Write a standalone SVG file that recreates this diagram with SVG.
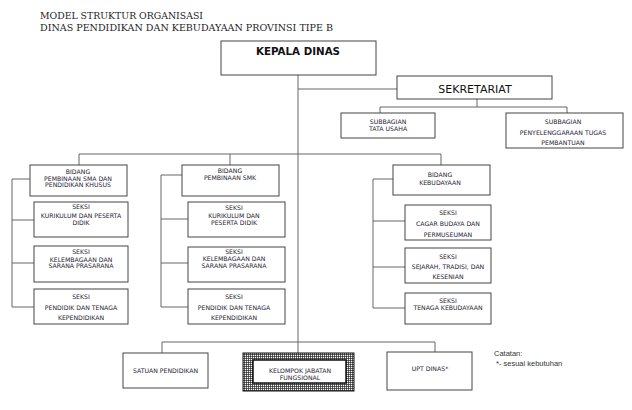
<svg xmlns="http://www.w3.org/2000/svg" width="632" height="410" viewBox="0 0 632 410">
<style>
.bx{fill:#fff;stroke:#444;stroke-width:1}
.ln{fill:none;stroke:#666;stroke-width:1}
.t{font-family:"DejaVu Sans",Verdana,sans-serif;font-size:6.2px;fill:#1e2233;text-anchor:middle}
.ttl{font-family:"DejaVu Serif","Liberation Serif",serif;font-size:8.6px;fill:#222}
</style>
<defs>
<pattern id="grid" width="2" height="2" patternUnits="userSpaceOnUse">
<rect width="2" height="2" fill="#fff"/>
<path d="M0 0.5H2M0.5 0V2" stroke="#222" stroke-width="0.7"/>
</pattern>
</defs>
<rect width="632" height="410" fill="#fff"/>
<g id="title">
<text class="ttl" x="40" y="18.5" textLength="163" lengthAdjust="spacingAndGlyphs">MODEL STRUKTUR ORGANISASI</text>
<text class="ttl" x="40" y="31" textLength="293" lengthAdjust="spacingAndGlyphs">DINAS PENDIDIKAN DAN KEBUDAYAAN PROVINSI TIPE B</text>
</g>
<g id="connectors" class="ln">
<path d="M298 75V353"/>
<path d="M298 89H397"/>
<path d="M477 99V107M380 107H567M380 107V113M567 107V113"/>
<path d="M79 154H441M79 154V165M230 154V165M441 154V165"/>
<path d="M12 179H30M12 179V307M12 220H34M12 263H34M12 307H34"/>
<path d="M161 175H182M161 175V307M161 219H188M161 263H188M161 307H188"/>
<path d="M373 179H393M373 179V308M373 221H405M373 267H405M373 308H405"/>
<path d="M162 342H435M162 342V353M435 342V352"/>
</g>
<g id="kepala-dinas">
<rect class="bx" x="221" y="41" width="155" height="34"/>
<text x="298" y="54.5" text-anchor="middle" font-family="DejaVu Sans,Verdana,sans-serif" font-weight="bold" font-size="10.3" fill="#111">KEPALA DINAS</text>
</g>
<g id="sekretariat">
<rect class="bx" x="397" y="76" width="155" height="23"/>
<text x="475" y="93" text-anchor="middle" font-family="DejaVu Sans,Verdana,sans-serif" font-size="11" fill="#111">SEKRETARIAT</text>
</g>
<g id="subbagian-tu">
<rect class="bx" x="341" y="113" width="94" height="25"/>
<text class="t" x="388" y="124">SUBBAGIAN</text>
<text class="t" x="388" y="131">TATA USAHA</text>
</g>
<g id="subbagian-tp">
<rect class="bx" x="506" y="113" width="117" height="35"/>
<text class="t" x="563" y="124">SUBBAGIAN</text>
<text class="t" x="563" y="135">PENYELENGGARAAN TUGAS</text>
<text class="t" x="563" y="145">PEMBANTUAN</text>
</g>
<g id="bidang-sma">
<rect class="bx" x="30" y="165" width="97" height="31"/>
<text class="t" x="78" y="174">BIDANG</text>
<text class="t" x="78" y="181">PEMBINAAN SMA DAN</text>
<text class="t" x="78" y="186.5">PENDIDIKAN KHUSUS</text>
</g>
<g id="sma-kurikulum">
<rect class="bx" x="34" y="202" width="94" height="35"/>
<text class="t" x="81" y="209">SEKSI</text>
<text class="t" x="81" y="218">KURIKULUM DAN PESERTA</text>
<text class="t" x="81" y="225">DIDIK</text>
</g>
<g id="sma-kelembagaan">
<rect class="bx" x="34" y="246" width="94" height="36"/>
<text class="t" x="81" y="254">SEKSI</text>
<text class="t" x="81" y="262">KELEMBAGAAN DAN</text>
<text class="t" x="81" y="268">SARANA PRASARANA</text>
</g>
<g id="sma-ptk">
<rect class="bx" x="34" y="289" width="94" height="35"/>
<text class="t" x="81" y="299">SEKSI</text>
<text class="t" x="81" y="310">PENDIDIK DAN TENAGA</text>
<text class="t" x="81" y="320">KEPENDIDIKAN</text>
</g>
<g id="bidang-smk">
<rect class="bx" x="182" y="165" width="97" height="31"/>
<text class="t" x="230" y="173">BIDANG</text>
<text class="t" x="230" y="180">PEMBINAAN SMK</text>
</g>
<g id="smk-kurikulum">
<rect class="bx" x="188" y="202" width="97" height="35"/>
<text class="t" x="234" y="210">SEKSI</text>
<text class="t" x="234" y="218">KURIKULUM DAN</text>
<text class="t" x="234" y="225">PESERTA DIDIK</text>
</g>
<g id="smk-kelembagaan">
<rect class="bx" x="188" y="247" width="97" height="35"/>
<text class="t" x="234" y="254">SEKSI</text>
<text class="t" x="234" y="261">KELEMBAGAAN DAN</text>
<text class="t" x="234" y="268">SARANA PRASARANA</text>
</g>
<g id="smk-ptk">
<rect class="bx" x="188" y="289" width="97" height="35"/>
<text class="t" x="234" y="299">SEKSI</text>
<text class="t" x="234" y="310">PENDIDIK DAN TENAGA</text>
<text class="t" x="234" y="320">KEPENDIDIKAN</text>
</g>
<g id="bidang-kebudayaan">
<rect class="bx" x="393" y="165" width="97" height="30"/>
<text class="t" x="440" y="177">BIDANG</text>
<text class="t" x="440" y="185">KEBUDAYAAN</text>
</g>
<g id="kebud-cagar">
<rect class="bx" x="405" y="205" width="86" height="35"/>
<text class="t" x="448" y="215">SEKSI</text>
<text class="t" x="448" y="226">CAGAR BUDAYA DAN</text>
<text class="t" x="448" y="237">PERMUSEUMAN</text>
</g>
<g id="kebud-sejarah">
<rect class="bx" x="405" y="248" width="86" height="35"/>
<text class="t" x="448" y="259">SEKSI</text>
<text class="t" x="448" y="269">SEJARAH, TRADISI, DAN</text>
<text class="t" x="448" y="279">KESENIAN</text>
</g>
<g id="kebud-tenaga">
<rect class="bx" x="405" y="293" width="86" height="31"/>
<text class="t" x="448" y="303">SEKSI</text>
<text class="t" x="448" y="310">TENAGA KEBUDAYAAN</text>
</g>
<g id="satuan-pendidikan">
<rect class="bx" x="123" y="353" width="85" height="35"/>
<text class="t" x="165.5" y="372.5" font-size="6.4">SATUAN PENDIDIKAN</text>
</g>
<g id="kelompok-jabatan">
<rect x="243" y="353" width="111" height="38" fill="url(#grid)" stroke="#111" stroke-width="1"/>
<rect x="253" y="360" width="93" height="23" fill="#fff" stroke="#111" stroke-width="1.5"/>
<text class="t" x="300" y="372.5" font-size="4.6">KELOMPOK JABATAN</text>
<text class="t" x="300" y="379.5" font-size="4.6">FUNGSIONAL</text>
</g>
<g id="upt-dinas">
<rect class="bx" x="387" y="352" width="85" height="38"/>
<text class="t" x="430" y="370.5" font-size="6.6">UPT DINAS*</text>
</g>
<g id="catatan" font-family="Liberation Sans,Arial,sans-serif" font-size="7.5" fill="#333">
<text x="494" y="356">Catatan:</text>
<text x="496" y="366">*- sesuai kebutuhan</text>
</g>
</svg>
